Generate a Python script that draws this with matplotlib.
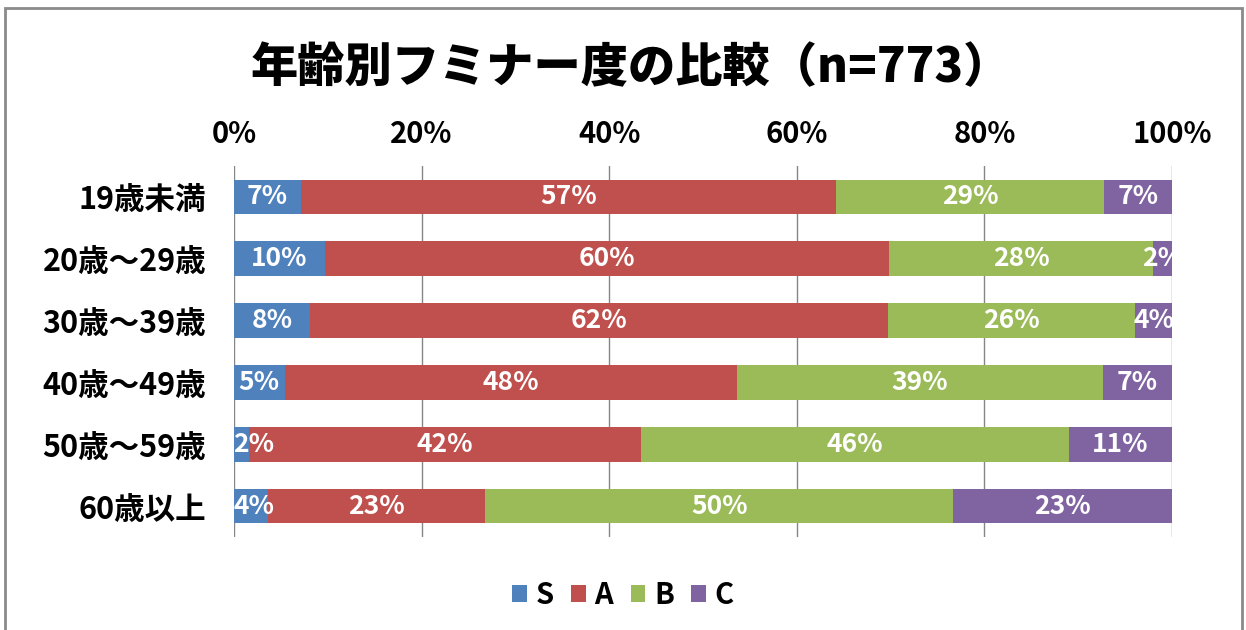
import matplotlib
matplotlib.use("Agg")
import matplotlib.pyplot as plt
from matplotlib.patches import Rectangle
import numpy as np

plt.rcParams['font.family'] = ['Noto Sans CJK JP', 'DejaVu Sans']

# data (percent of each age group)
groups = ["19歳未満", "20歳～29歳", "30歳～39歳", "40歳～49歳", "50歳～59歳", "60歳以上"]
series = ["S", "A", "B", "C"]
s_vals = [7.1, 9.7, 8.1, 5.4, 1.6, 3.6]
a_vals = [57.1, 60.1, 61.6, 48.2, 41.8, 23.2]
b_vals = [28.6, 28.2, 26.4, 39.0, 45.6, 49.9]
c_vals = [7.2, 2.0, 3.9, 7.4, 11.0, 23.3]
colors = ["#4F81BD", "#C0504D", "#9BBB59", "#8064A2"]

fig = plt.figure(figsize=(12.46, 6.30), dpi=100)
ax = fig.add_axes([0.1878, 0.1476, 0.7528, 0.5889])

y = np.arange(len(groups))
left = np.zeros(len(groups))
for name, vals, col in zip(series, [s_vals, a_vals, b_vals, c_vals], colors):
    vals = np.array(vals)
    ax.barh(y, vals, left=left, height=0.56, color=col, label=name, zorder=3)
    for yi, l, v in zip(y, left, vals):
        # keep small labels inside the plot area on the left, like Excel
        ax.text(max(l + v / 2, 2.1), yi, f"{v:.0f}%", ha="center", va="center",
                color="white", fontsize=19, fontweight="bold",
                clip_on=True, zorder=4)
    left += vals

ax.set_xlim(0, 100)
ax.set_ylim(len(groups) - 0.5, -0.5)
ax.set_yticks(y)
ax.set_yticklabels(groups, fontsize=22, fontweight="bold")
ax.set_xticks(np.arange(0, 101, 20))
ax.set_xticklabels([f"{t}%" for t in range(0, 101, 20)], fontsize=21, fontweight="bold")
ax.xaxis.tick_top()
ax.tick_params(axis="x", length=0, pad=12)
ax.tick_params(axis="y", length=0, pad=20)
ax.grid(axis="x", color="#868686", linewidth=1, zorder=0)
for sp in ax.spines.values():
    sp.set_visible(False)

fig.text(0.506, 0.892, "年齢別フミナー度の比較（n=773）", fontsize=34, fontweight="black",
         ha="center", va="center")

fig.legend(loc="center", bbox_to_anchor=(0.5, 0.056), ncol=4, frameon=False,
           handlelength=0.5, handleheight=0.5, handletextpad=0.3,
           columnspacing=0.6, prop={"weight": "bold", "size": 21})

fig.patches.append(Rectangle((0.004, -0.02), 0.993, 1.008, transform=fig.transFigure,
                             fill=False, edgecolor="#8a8a8a", linewidth=2))

fig.savefig("out.png", dpi=100)
